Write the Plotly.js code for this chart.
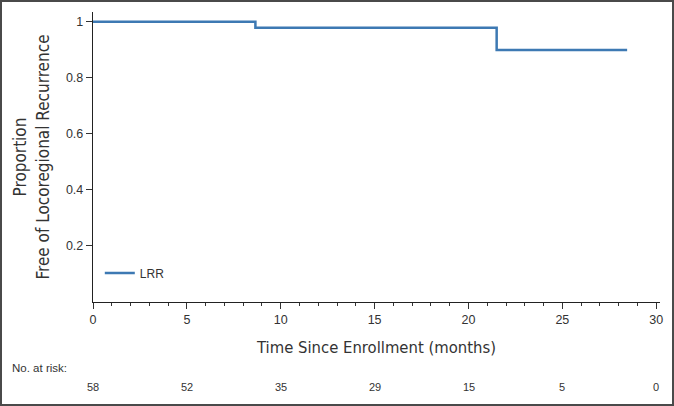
<!DOCTYPE html>
<html>
<head>
<meta charset="utf-8">
<script src="https://cdn.plot.ly/plotly-3.0.1.min.js"></script>
<style>
html,body{margin:0;padding:0;background:#fff;}
#chart{width:670px;height:402px;border:2px solid #4a4a4a;}
</style>
</head>
<body>
<div id="chart"></div>
<script>
// Kaplan-Meier step data (months, proportion)
var times = [0, 8.65, 21.5, 28.45];
var survival = [1, 0.979, 0.899, 0.899];
var seriesName = 'LRR';

// Number at risk
var riskTimes = [0, 5, 10, 15, 20, 25, 30];
var riskCounts = [58, 52, 35, 29, 15, 5, 0];

// Axis ticks
var xTicks = [0, 5, 10, 15, 20, 25, 30];
var yTicks = [0.2, 0.4, 0.6, 0.8, 1];
var yTickText = ['0.2', '0.4', '0.6', '0.8', '1'];

var COND = '"Liberation Sans Narrow", "DejaVu Sans Condensed", "Roboto", sans-serif';
var SANS = '"Liberation Sans", Arial, sans-serif';

var trace = {
  x: times, y: survival, name: seriesName, type: 'scatter', mode: 'lines',
  line: {shape: 'hv', color: '#3d79b3', width: 2.5},
  showlegend: true
};

var annotations = riskTimes.map(function(t, i) {
  return {x: t, xref: 'x', y: -0.293, yref: 'paper', yanchor: 'middle', xanchor: 'center',
    text: String(riskCounts[i]), showarrow: false, font: {family: SANS, size: 11, color: '#333'}};
});
annotations.push({x: -0.146, xref: 'paper', y: -0.228, yref: 'paper', xanchor: 'left', yanchor: 'middle',
  text: 'No. at risk:', showarrow: false, font: {family: SANS, size: 11.5, color: '#333'}});

var layout = {
  width: 670, height: 402,
  margin: {l: 91, r: 12, t: 10, b: 102},
  paper_bgcolor: '#fff', plot_bgcolor: '#fff',
  font: {family: SANS, color: '#333'},
  xaxis: {
    range: [0, 30.2], tickvals: xTicks, ticks: 'outside', ticklen: 6, tickcolor: '#333',
    showline: true, linecolor: '#222', linewidth: 1.2, showgrid: false, zeroline: false,
    tickfont: {family: SANS, size: 12.5, color: '#333'},
    minor: {dtick: 1, ticks: 'outside', ticklen: 3, tickcolor: '#333', showgrid: false},
    title: {text: 'Time Since Enrollment (months)', font: {family: COND, size: 16.5, color: '#333'}, standoff: 15}
  },
  yaxis: {
    range: [0, 1.035], tickvals: yTicks, ticktext: yTickText, ticks: 'outside', ticklen: 6, tickcolor: '#333',
    showline: true, linecolor: '#222', linewidth: 1.2, showgrid: false, zeroline: false,
    tickfont: {family: SANS, size: 12.5, color: '#333'},
    title: {text: 'Proportion<br>Free of Locoregional Recurrence', font: {family: COND, size: 17, color: '#333'}, standoff: 12}
  },
  legend: {x: 0.012, y: 0.1, xanchor: 'left', yanchor: 'middle', bgcolor: 'rgba(0,0,0,0)',
    font: {family: SANS, size: 12, color: '#333'}},
  annotations: annotations
};

Plotly.newPlot('chart', [trace], layout, {displayModeBar: false, staticPlot: true});
</script>
</body>
</html>
